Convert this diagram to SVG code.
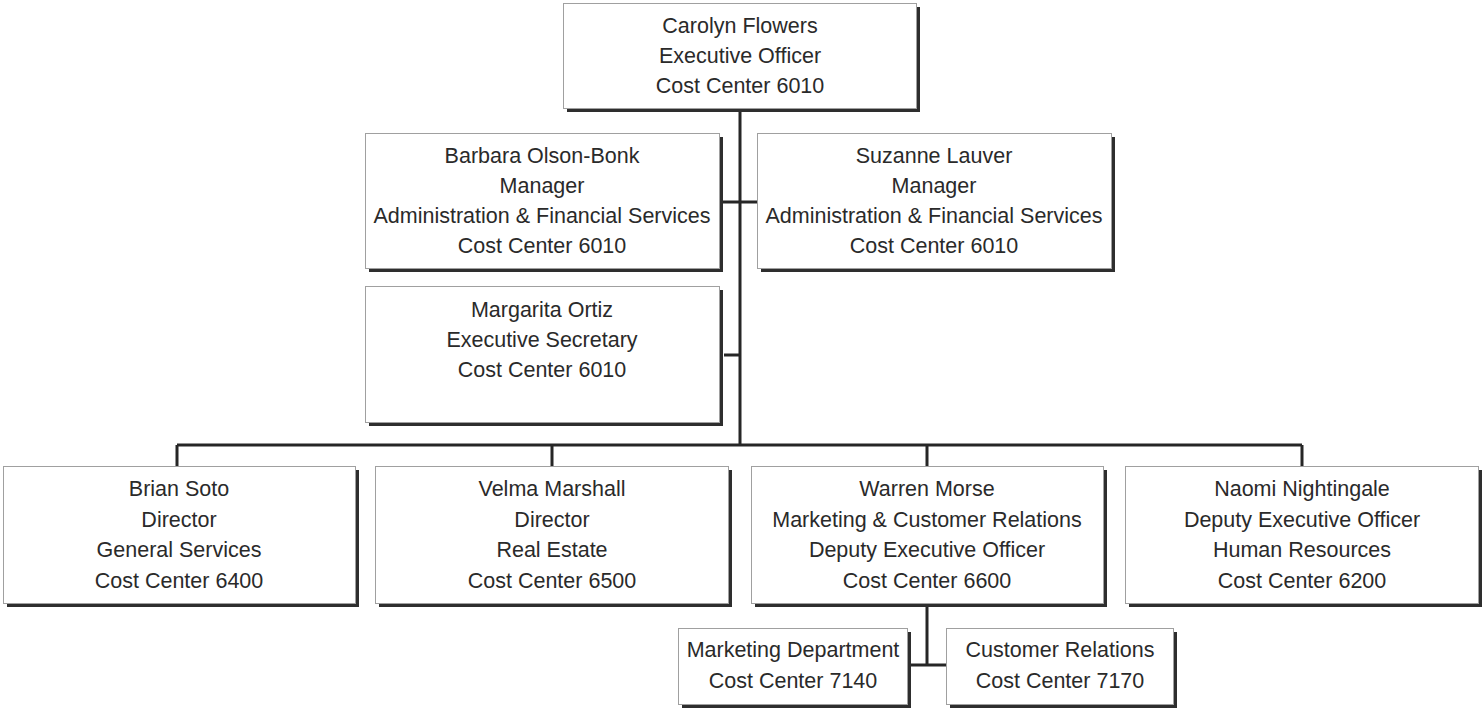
<svg xmlns="http://www.w3.org/2000/svg" width="1482" height="708" viewBox="0 0 1482 708">
<style>
.sh{fill:#2e2e2e}
.bx{fill:#fff;stroke:#a0a0a0;stroke-width:1}
.t{font-family:"Liberation Sans",Arial,sans-serif;font-size:21.5px;fill:#2a2a2a;text-anchor:middle}
.c{stroke:#262626;stroke-width:3;fill:none}
</style>
<rect width="1482" height="708" fill="#fff"/>
<g id="connectors">
<path class="c" d="M740,111V445"/>
<path class="c" d="M722,202H758"/>
<path class="c" d="M724,355H740"/>
<path class="c" d="M177,445H1302"/>
<path class="c" d="M177,445V466M552,445V466M927,445V466M1302,445V466"/>
<path class="c" d="M927,606V665M910,665H946"/>
</g>
<g id="carolyn">
<rect class="sh" x="567" y="7" width="353" height="105"/>
<rect class="bx" x="563.5" y="3.5" width="353" height="105"/>
<text class="t" x="740" y="33">Carolyn Flowers</text>
<text class="t" x="740" y="63">Executive Officer</text>
<text class="t" x="740" y="93">Cost Center 6010</text>
</g>
<g id="barbara">
<rect class="sh" x="369" y="137" width="354" height="135"/>
<rect class="bx" x="365.5" y="133.5" width="354" height="135"/>
<text class="t" x="542" y="163">Barbara Olson-Bonk</text>
<text class="t" x="542" y="193">Manager</text>
<text class="t" x="542" y="223">Administration &amp; Financial Services</text>
<text class="t" x="542" y="253">Cost Center 6010</text>
</g>
<g id="suzanne">
<rect class="sh" x="761" y="137" width="354" height="135"/>
<rect class="bx" x="757.5" y="133.5" width="354" height="135"/>
<text class="t" x="934" y="163">Suzanne Lauver</text>
<text class="t" x="934" y="193">Manager</text>
<text class="t" x="934" y="223">Administration &amp; Financial Services</text>
<text class="t" x="934" y="253">Cost Center 6010</text>
</g>
<g id="margarita">
<rect class="sh" x="369" y="290" width="354" height="136"/>
<rect class="bx" x="365.5" y="286.5" width="354" height="136"/>
<text class="t" x="542" y="317">Margarita Ortiz</text>
<text class="t" x="542" y="347">Executive Secretary</text>
<text class="t" x="542" y="377">Cost Center 6010</text>
</g>
<g id="brian">
<rect class="sh" x="7" y="470" width="352" height="137"/>
<rect class="bx" x="3.5" y="466.5" width="352" height="137"/>
<text class="t" x="179" y="496">Brian Soto</text>
<text class="t" x="179" y="526.5">Director</text>
<text class="t" x="179" y="557">General Services</text>
<text class="t" x="179" y="587.5">Cost Center 6400</text>
</g>
<g id="velma">
<rect class="sh" x="379" y="470" width="353" height="137"/>
<rect class="bx" x="375.5" y="466.5" width="353" height="137"/>
<text class="t" x="552" y="496">Velma Marshall</text>
<text class="t" x="552" y="526.5">Director</text>
<text class="t" x="552" y="557">Real Estate</text>
<text class="t" x="552" y="587.5">Cost Center 6500</text>
</g>
<g id="warren">
<rect class="sh" x="755" y="470" width="352" height="137"/>
<rect class="bx" x="751.5" y="466.5" width="352" height="137"/>
<text class="t" x="927" y="496">Warren Morse</text>
<text class="t" x="927" y="526.5">Marketing &amp; Customer Relations</text>
<text class="t" x="927" y="557">Deputy Executive Officer</text>
<text class="t" x="927" y="587.5">Cost Center 6600</text>
</g>
<g id="naomi">
<rect class="sh" x="1129" y="470" width="353" height="137"/>
<rect class="bx" x="1125.5" y="466.5" width="353" height="137"/>
<text class="t" x="1302" y="496">Naomi Nightingale</text>
<text class="t" x="1302" y="526.5">Deputy Executive Officer</text>
<text class="t" x="1302" y="557">Human Resources</text>
<text class="t" x="1302" y="587.5">Cost Center 6200</text>
</g>
<g id="marketing">
<rect class="sh" x="682" y="632" width="229" height="76"/>
<rect class="bx" x="678.5" y="628.5" width="229" height="76"/>
<text class="t" x="793" y="657">Marketing Department</text>
<text class="t" x="793" y="688">Cost Center 7140</text>
</g>
<g id="customer">
<rect class="sh" x="950" y="632" width="227" height="76"/>
<rect class="bx" x="946.5" y="628.5" width="227" height="76"/>
<text class="t" x="1060" y="657">Customer Relations</text>
<text class="t" x="1060" y="688">Cost Center 7170</text>
</g>
</svg>
